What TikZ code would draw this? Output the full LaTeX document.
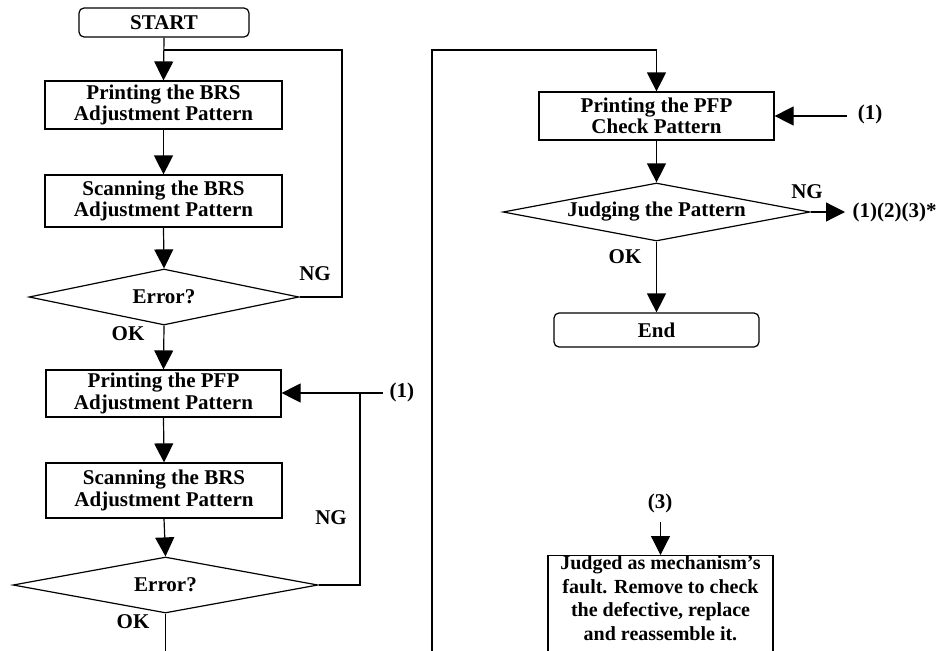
\documentclass[tikz,border=0pt]{standalone}
\usepackage{fontspec}
\setmainfont{Liberation Serif}
\usetikzlibrary{arrows.meta,shapes.geometric}
\begin{document}
\begin{tikzpicture}[x=1pt,y=-1pt,
  font=\bfseries\fontsize{21}{21.5}\selectfont,
  line width=1.2pt,
  box/.style={draw, rectangle, align=center, inner sep=0pt},
  term/.style={draw, rectangle, rounded corners=5pt, inner sep=0pt},
  dec/.style={draw, diamond, shape aspect=5.3, inner sep=0pt},
  arr/.style={-{Triangle[length=19pt,width=19pt]}},
  lbl/.style={inner sep=0pt}]
\useasboundingbox (0,0) rectangle (938,651);
% left column
\node[term, minimum width=170, minimum height=29] (start) at (164,22.5) {START};
\node[box, minimum width=237, minimum height=48] (b1) at (163.5,105) {Printing the BRS\\Adjustment Pattern};
\node[box, minimum width=237, minimum height=52] (b2) at (163.5,201) {Scanning the BRS\\Adjustment Pattern};
\node[dec, minimum width=270, minimum height=56] (d1) at (164,297) {Error?};
\node[box, minimum width=235, minimum height=47] (b3) at (163.5,393.5) {Printing the PFP\\Adjustment Pattern};
\node[box, minimum width=236, minimum height=55] (b4) at (164,490.5) {Scanning the BRS\\Adjustment Pattern};
\node[dec, minimum width=305, minimum height=56] (d2) at (165.5,585) {Error?};
% right column
\node[box, minimum width=235, minimum height=48] (b5) at (656.5,116) {Printing the PFP\\Check Pattern};
\node[dec, minimum width=307, minimum height=58] (d3) at (656.5,212) {Judging the Pattern};
\node[term, minimum width=205, minimum height=34] (end) at (656.5,330) {End};
\node[draw, rectangle, minimum width=225, minimum height=110, anchor=north, inner sep=0pt] (b6) at (660.5,555) {};
\node[align=center, anchor=north, inner sep=0pt, font=\bfseries\fontsize{20}{23.5}\selectfont] (b6t) at (660.5,555.5) {Judged as mechanism’s\\fault. Remove to check\\the defective, replace\\and reassemble it.};
% labels
\node[lbl] (ng1) at (315,274) {NG};
\node[lbl] (ok1) at (128,334) {OK};
\node[lbl, anchor=west] (one1) at (389,392) {(1)};
\node[lbl] (ng2) at (331,518) {NG};
\node[lbl] (ok2) at (133,622) {OK};
\node[lbl] (one2) at (870,114) {(1)};
\node[lbl] (ng3) at (807,192) {NG};
\node[lbl, anchor=west] (multi) at (852,212) {(1)(2)(3)*};
\node[lbl] (ok3) at (625,257) {OK};
\node[lbl] (three) at (660,503) {(3)};
% coordinates
\coordinate (loop1) at (342,50);
\coordinate (join1) at (164,50);
\coordinate (in1) at (383,393);
\coordinate (loop2) at (360,393);
\coordinate (bottomL) at (165.5,660);
\coordinate (bottomR) at (432,660);
\coordinate (topR) at (656.5,50);
\coordinate (in2) at (847,116);
\coordinate (out3) at (845,212);
\coordinate (in3) at (660.5,522);
% connectors
\draw[arr] (start.south) -- (b1.north);
\draw (d1.east) -| (loop1) -- (join1);
\draw[arr] (b1.south) -- (b2.north);
\draw[arr] (b2.south) -- (d1.north);
\draw[arr] (d1.south) -- (b3.north);
\draw[arr] (in1) -- (in1 -| b3.east);
\draw (d2.east) -| (loop2);
\draw[arr] (b3.south) -- (b4.north);
\draw[arr] (b4.south) -- (d2.north);
\draw (d2.south) -- (bottomL);
\draw[arr] (bottomR) |- (topR) -- (b5.north);
\draw[arr] (in2) -- (in2 -| b5.east);
\draw[arr] (b5.south) -- (d3.north);
\draw[arr] (d3.east) -- (out3);
\draw[arr] (d3.south) -- (end.north);
\draw[arr] (in3) -- (b6.north);
\end{tikzpicture}
\end{document}
